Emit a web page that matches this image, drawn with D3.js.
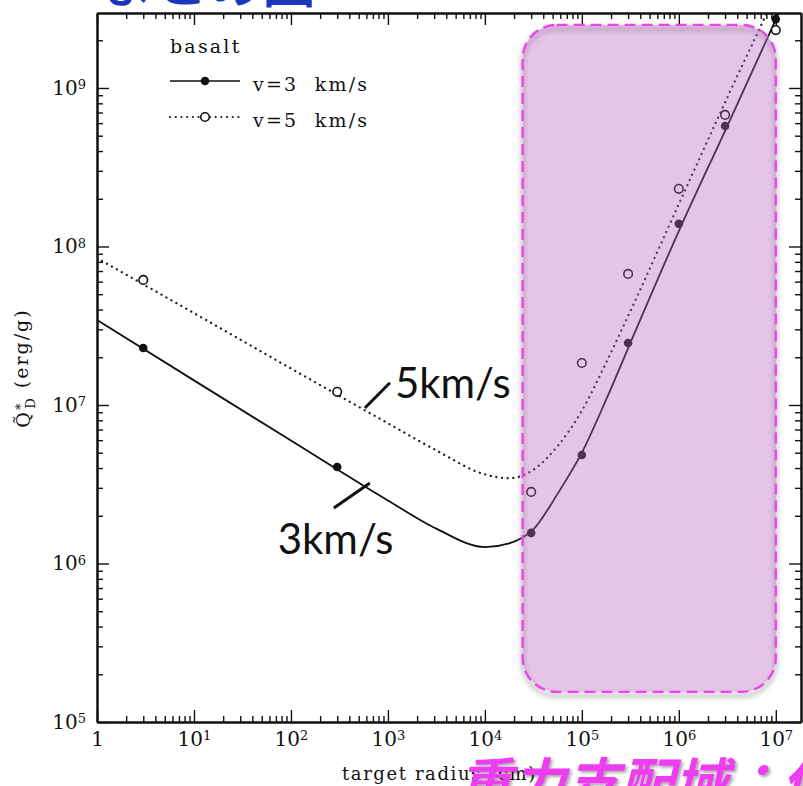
<!DOCTYPE html>
<html>
<head>
<meta charset="utf-8">
<script src="https://cdn.jsdelivr.net/npm/d3@7"></script>
<style>
  body { margin: 0; background: #fff; }
  svg { display: block; }
  .tk text { font-family: "DejaVu Serif", serif; font-size: 20px; fill: #111; }
  .tk line { stroke: #111; }
  .tk path { stroke: #111; stroke-width: 2; }
</style>
</head>
<body>
<div id="chart"></div>
<script>
// measured points (target radius in cm, Q*D in erg/g)
const radius = [3, 300, 3e4, 1e5, 3e5, 1e6, 3e6, 1e7];
const q3 = [2.29e7, 4.06e6, 1.56e6, 4.84e6, 2.46e7, 1.39e8, 5.75e8, 2.72e9];
const q5 = [6.15e7, 1.21e7, 2.83e6, 1.84e7, 6.71e7, 2.31e8, 6.76e8, 2.32e9];

// fit curves
const fitR = [1, 10, 100, 1e3, 3.16e3, 1e4, 1.78e4, 3.16e4, 5.62e4, 1e5, 1.78e5, 3.16e5, 1e6, 3.16e6, 1e7, 1.12e7];
const fit3 = [3.44e7, 1.43e7, 5.97e6, 2.5e6, 1.66e6, 1.27e6, 1.34e6, 1.64e6, 2.75e6, 5.0e6, 1.08e7, 2.46e7, 1.25e8, 5.75e8, 2.7e9, 3.15e9];
const fit5 = [8.45e7, 3.8e7, 1.7e7, 7.67e6, 5.17e6, 3.65e6, 3.45e6, 3.9e6, 5.5e6, 9.2e6, 1.85e7, 3.9e7, 1.85e8, 8.7e8, 4.0e9, 4.7e9];

const xDecades = [1, 1e1, 1e2, 1e3, 1e4, 1e5, 1e6, 1e7];
const yDecades = [1e5, 1e6, 1e7, 1e8, 1e9];

// highlighted gravity regime
const boxR = [2.45e4, 1e7];
const boxQ = [1.55e5, 2.5e9];

const width = 803, height = 786;
const pLeft = 97, pRight = 801, pTop = 13, pBottom = 722;

const svg = d3.select('#chart').append('svg')
  .attr('width', width)
  .attr('height', height);

const x = d3.scaleLog().domain([1, Math.pow(10, 7.26)]).range([pLeft, pRight]);
const y = d3.scaleLog().domain([1e5, Math.pow(10, 9.473)]).range([pBottom, pTop]);

const defs = svg.append('defs');
defs.append('clipPath').attr('id', 'plot')
  .append('rect').attr('x', pLeft).attr('y', pTop)
  .attr('width', pRight - pLeft).attr('height', pBottom - pTop);

let blur = defs.append('filter').attr('id', 'blur')
  .attr('x', '-10%').attr('y', '-10%').attr('width', '120%').attr('height', '120%');
blur.append('feGaussianBlur').attr('stdDeviation', 2.5);

let shadow = defs.append('filter').attr('id', 'txtshadow');
shadow.append('feDropShadow').attr('dx', 2).attr('dy', 2)
  .attr('stdDeviation', 1.5).attr('flood-color', '#000').attr('flood-opacity', 0.35);

// slide title, cut off at the top
svg.append('text')
  .attr('x', 100).attr('y', 3)
  .style('font-family', '"Noto Sans CJK JP", sans-serif')
  .style('font-size', '54px')
  .style('font-weight', 500)
  .style('fill', '#1b36b8')
  .text('まとめ図');

const minorX = x.ticks().filter(d => !xDecades.includes(d));
const minorY = y.ticks().filter(d => !yDecades.includes(d));

function labelTicks(g) {
  g.selectAll('.tick text').each(function (d) {
    let t = d3.select(this).text(null);
    let e = Math.round(Math.log10(d));
    if (e === 0) { t.append('tspan').text('1'); return; }
    t.append('tspan').text('10');
    t.append('tspan').attr('dy', '-0.45em').style('font-size', '13px').text(e);
  });
}

// minor ticks
svg.append('g').attr('class', 'tk').attr('transform', `translate(0,${pBottom})`)
  .call(d3.axisBottom(x).tickValues(minorX).tickSize(-6).tickSizeOuter(0).tickFormat(''));
svg.append('g').attr('class', 'tk').attr('transform', `translate(0,${pTop})`)
  .call(d3.axisTop(x).tickValues(minorX).tickSize(-6).tickSizeOuter(0).tickFormat(''));
svg.append('g').attr('class', 'tk').attr('transform', `translate(${pLeft},0)`)
  .call(d3.axisLeft(y).tickValues(minorY).tickSize(-6).tickSizeOuter(0).tickFormat(''));
svg.append('g').attr('class', 'tk').attr('transform', `translate(${pRight},0)`)
  .call(d3.axisRight(y).tickValues(minorY).tickSize(-6).tickSizeOuter(0).tickFormat(''));

// major ticks
svg.append('g').attr('class', 'tk').attr('transform', `translate(0,${pBottom})`)
  .call(d3.axisBottom(x).tickValues(xDecades).tickSize(-12).tickSizeOuter(0).tickPadding(10))
  .call(labelTicks);
svg.append('g').attr('class', 'tk').attr('transform', `translate(0,${pTop})`)
  .call(d3.axisTop(x).tickValues(xDecades).tickSize(-12).tickSizeOuter(0).tickFormat(''));
svg.append('g').attr('class', 'tk').attr('transform', `translate(${pLeft},0)`)
  .call(d3.axisLeft(y).tickValues(yDecades).tickSize(-12).tickSizeOuter(0).tickPadding(11))
  .call(labelTicks);
svg.append('g').attr('class', 'tk').attr('transform', `translate(${pRight},0)`)
  .call(d3.axisRight(y).tickValues(yDecades).tickSize(-12).tickSizeOuter(0).tickFormat(''));

svg.selectAll('.tk .tick line').style('stroke-width', 1.4);

// axis titles
svg.append('text')
  .attr('x', 342).attr('y', 780)
  .style('font-family', '"DejaVu Serif", serif')
  .style('font-size', '18px')
  .style('letter-spacing', '1.6px')
  .style('fill', '#111')
  .text('target radius (cm)');

let ylab = svg.append('text')
  .attr('transform', 'translate(30,368) rotate(-90)')
  .attr('text-anchor', 'middle')
  .style('font-family', '"DejaVu Serif", serif')
  .style('font-size', '19px')
  .style('letter-spacing', '2px')
  .style('fill', '#111');
ylab.append('tspan').text('Q\u0303');
ylab.append('tspan').attr('dy', '-0.4em').style('font-size', '13px').text('*');
ylab.append('tspan').attr('dx', '-0.55em').attr('dy', '0.75em').style('font-size', '13px').text('D');
ylab.append('tspan').attr('dy', '-0.35em').text(' (erg/g)');

// curves
const line = d3.line()
  .x(d => x(d[0]))
  .y(d => y(d[1]))
  .curve(d3.curveMonotoneX);

let plot = svg.append('g').attr('clip-path', 'url(#plot)');

plot.append('path')
  .datum(fitR.map((r, i) => [r, fit3[i]]))
  .attr('d', line)
  .style('fill', 'none')
  .style('stroke', '#111')
  .style('stroke-width', 1.8);

plot.append('path')
  .datum(fitR.map((r, i) => [r, fit5[i]]))
  .attr('d', line)
  .style('fill', 'none')
  .style('stroke', '#222')
  .style('stroke-width', 2.3)
  .style('stroke-linecap', 'round')
  .style('stroke-dasharray', '0.1 5.6');

plot.selectAll('.p3')
  .data(radius.map((r, i) => [r, q3[i]]))
  .enter().append('circle')
  .attr('class', 'p3')
  .attr('cx', d => x(d[0]))
  .attr('cy', d => y(d[1]))
  .attr('r', 4.3)
  .style('fill', '#111');

plot.selectAll('.p5')
  .data(radius.map((r, i) => [r, q5[i]]))
  .enter().append('circle')
  .attr('class', 'p5')
  .attr('cx', d => x(d[0]))
  .attr('cy', d => y(d[1]))
  .attr('r', 4.3)
  .style('fill', '#fff')
  .style('stroke', '#111')
  .style('stroke-width', 1.6);

// legend
let lg = svg.append('g')
  .style('font-family', '"DejaVu Serif", serif')
  .style('font-size', '19px')
  .style('letter-spacing', '2.2px')
  .style('fill', '#111');
lg.append('text').attr('x', 170).attr('y', 53).text('basalt');
lg.append('line').attr('x1', 170).attr('x2', 240).attr('y1', 81).attr('y2', 81)
  .style('stroke', '#111').style('stroke-width', 1.6);
lg.append('circle').attr('cx', 205).attr('cy', 81).attr('r', 4.3).style('fill', '#111');
lg.append('text').attr('x', 253).attr('y', 91).style('white-space', 'pre').text('v=3  km/s');
lg.append('line').attr('x1', 170).attr('x2', 240).attr('y1', 117).attr('y2', 117)
  .style('stroke', '#222').style('stroke-width', 2.2)
  .style('stroke-linecap', 'round').style('stroke-dasharray', '0.1 5.6');
lg.append('circle').attr('cx', 205).attr('cy', 117).attr('r', 4.3)
  .style('fill', '#fff').style('stroke', '#111').style('stroke-width', 1.6);
lg.append('text').attr('x', 253).attr('y', 127).style('white-space', 'pre').text('v=5  km/s');

// highlight box over the gravity regime
let bx = x(boxR[0]), bw = x(boxR[1]) - x(boxR[0]);
let by = y(boxQ[1]), bh = y(boxQ[0]) - y(boxQ[1]);
svg.append('rect')
  .attr('x', bx).attr('y', by + 4).attr('width', bw).attr('height', bh)
  .attr('rx', 34).attr('ry', 34)
  .style('fill', 'none')
  .style('stroke', '#777')
  .style('stroke-width', 4)
  .style('opacity', 0.45)
  .attr('filter', 'url(#blur)');
svg.append('rect')
  .attr('x', bx).attr('y', by).attr('width', bw).attr('height', bh)
  .attr('rx', 34).attr('ry', 34)
  .style('fill', 'rgba(190,100,195,0.38)')
  .style('stroke', '#ee44ee')
  .style('stroke-width', 2.4)
  .style('stroke-dasharray', '11 6');

// speed annotations
let ann = svg.append('g')
  .style('font-family', 'Lato, "Open Sans", sans-serif')
  .style('font-size', '42px')
  .style('fill', '#111');
ann.append('line')
  .attr('x1', x(579)).attr('y1', y(9.58e6))
  .attr('x2', x(1049)).attr('y2', y(1.38e7))
  .style('stroke', '#111').style('stroke-width', 3);
ann.append('text').attr('x', x(1180)).attr('y', y(1.2e7) + 6).text('5km/s');
ann.append('line')
  .attr('x1', x(277)).attr('y1', y(2.24e6))
  .attr('x2', x(652)).attr('y2', y(3.22e6))
  .style('stroke', '#111').style('stroke-width', 3);
ann.append('text').attr('x', x(73)).attr('y', y(1.14e6)).text('3km/s');

// slide caption, cut off at the bottom
svg.append('text')
  .attr('x', 458).attr('y', 803)
  .style('font-family', '"Noto Sans CJK JP", sans-serif')
  .style('font-size', '54px')
  .style('font-weight', 700)
  .style('font-style', 'italic')
  .style('fill', '#ee3cf0')
  .attr('filter', 'url(#txtshadow)')
  .text('重力支配域：低');
</script>
</body>
</html>
